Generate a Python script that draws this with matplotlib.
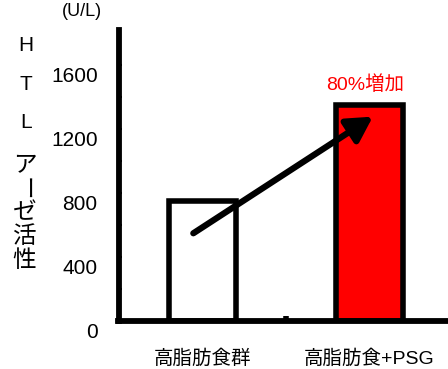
import numpy as np
import matplotlib
matplotlib.use("Agg")
import matplotlib.pyplot as plt
from matplotlib.transforms import ScaledTranslation

plt.rcParams['font.family'] = ['Liberation Sans', 'Noto Sans CJK JP']

# data
groups = ['高脂肪食群', '高脂肪食+PSG']
htl_activity = [750, 1350]          # U/L
bar_colors = ['white', '#ff0000']
yticks = [0, 400, 800, 1200, 1600]

W, H = 448, 369
fig = plt.figure(figsize=(W / 100, H / 100), dpi=100)
ax = fig.add_axes([118.5 / W, (H - 320.5) / H, 329.5 / W, 290.5 / H])

x = np.arange(len(groups))
ax.bar(x, htl_activity, width=0.40, color=bar_colors, edgecolor='black',
       linewidth=4, zorder=2)

ax.set_xlim(-0.503, 1.47)
ax.set_ylim(0, 1816)

for side in ['top', 'right']:
    ax.spines[side].set_visible(False)
for side in ['left', 'bottom']:
    ax.spines[side].set_linewidth(4.2)
    ax.spines[side].set_capstyle('projecting')

# y ticks: small inward notches, labels sit a bit low
ax.set_yticks(yticks, [str(v) for v in yticks])
ax.set_yticks(np.arange(200, 1800, 400), minor=True)
ax.tick_params(axis='y', which='both', direction='in', length=2, width=1.5,
               labelsize=15, pad=15)
shift = ScaledTranslation(0, -9.5 / 100, fig.dpi_scale_trans)
for lab in ax.get_yticklabels():
    lab.set_transform(lab.get_transform() + shift)

# x: category labels, one small notch between the groups
ax.set_xticks(x, groups)
ax.set_xticks([0.5], minor=True)
ax.tick_params(axis='x', which='major', length=0, labelsize=14, pad=21)
ax.tick_params(axis='x', which='minor', direction='in', length=3.5, width=4)

# increase arrow and label
ax.annotate('', xy=(x[1] + 0.02, htl_activity[1] * 0.944),
            xytext=(x[0] - 0.055, htl_activity[0] * 0.727),
            arrowprops=dict(arrowstyle='-|>,head_length=0.75,head_width=0.42',
                            mutation_scale=20, lw=4.5, color='black',
                            shrinkA=0, shrinkB=0),
            zorder=3)
pct = round((htl_activity[1] / htl_activity[0] - 1) * 100)
ax.text(x[1] - 0.027, htl_activity[1] + 122, f'{pct}%増加', color='#ff0000',
        fontsize=14, ha='center', va='center')

# unit and vertical axis title
fig.text(82 / W, 1 - 11 / H, '(U/L)', fontsize=13, ha='center', va='center')
for ch, py in zip('HTL', [45.5, 84.5, 122.5]):
    fig.text(26 / W, 1 - py / H, ch, fontsize=15, ha='center', va='center')
for ch, py in zip('アーゼ活性', [166, 189, 213, 237, 261]):
    fig.text(24.5 / W, 1 - py / H, ch, fontsize=17, ha='center', va='center',
             rotation=-90 if ch == 'ー' else 0)

fig.savefig('out.png', dpi=100)
